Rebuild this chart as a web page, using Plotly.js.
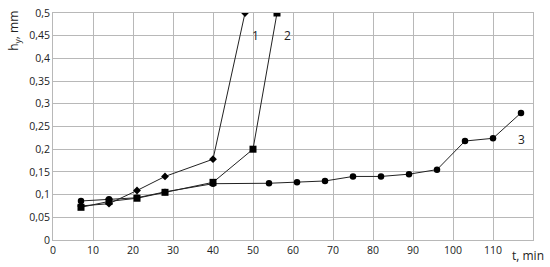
<!DOCTYPE html>
<html><head><meta charset="utf-8">
<script src="https://cdn.plot.ly/plotly-3.0.1.min.js"></script>
<style>body{margin:0;padding:0;background:#fff}</style>
</head><body>
<div id="chart" style="width:550px;height:267px"></div>
<script>
const t1 = [7, 14, 21, 28, 40, 48];
const h1 = [0.075, 0.08, 0.109, 0.14, 0.178, 0.5];
const t2 = [7, 14, 21, 28, 40, 50, 56];
const h2 = [0.072, 0.085, 0.092, 0.105, 0.127, 0.2, 0.5];
const t3 = [7, 14, 21, 28, 40, 54, 61, 68, 75, 82, 89, 96, 103, 110, 117];
const h3 = [0.086, 0.09, 0.093, 0.106, 0.124, 0.125, 0.127, 0.13, 0.14, 0.14, 0.145, 0.155, 0.218, 0.224, 0.28];
const xTicks = [0, 10, 20, 30, 40, 50, 60, 70, 80, 90, 100, 110];
const yTicks = [0, 0.05, 0.1, 0.15, 0.2, 0.25, 0.3, 0.35, 0.4, 0.45, 0.5];
const seriesLabels = ["1", "2", "3"];

const line = {color: '#222', width: 1};
const traces = [
  {x: t3, y: h3, mode: 'lines+markers', line: line, marker: {symbol: 'circle', size: 6.5, color: '#000'}},
  {x: t2, y: h2, mode: 'lines+markers', line: line, marker: {symbol: 'square', size: 7, color: '#000'}},
  {x: t1, y: h1, mode: 'lines+markers', line: line, marker: {symbol: 'diamond', size: 6, color: '#000'}}
];
const fam = 'Open Sans, Liberation Sans, sans-serif';
const font = {family: fam, size: 10.5, color: '#222'};
const lab = {family: fam, size: 12, color: '#222'};
const layout = {
  width: 550, height: 267,
  margin: {l: 53, r: 17, t: 13, b: 27},
  showlegend: false,
  separators: ', ',
  paper_bgcolor: '#fff', plot_bgcolor: '#fff',
  font: font,
  xaxis: {range: [0, 120], tickvals: xTicks, showgrid: true, gridcolor: '#b8b8b8', gridwidth: 1,
          zeroline: false, showline: true, linecolor: '#b8b8b8', mirror: true, ticks: '', tickfont: font},
  yaxis: {range: [0, 0.5], tickvals: yTicks, showgrid: true, gridcolor: '#b8b8b8', gridwidth: 1,
          zeroline: false, showline: true, linecolor: '#b8b8b8', mirror: true, ticks: '', tickfont: font},
  annotations: [
    {xref: 'paper', yref: 'paper', x: -0.08, y: 0.92, text: 'h<sub>y</sub>, mm', textangle: -90, showarrow: false, font: lab, xanchor: 'center', yanchor: 'middle'},
    {xref: 'paper', yref: 'paper', x: 0.99, y: 0, yshift: -15, text: 't, min', showarrow: false, font: lab, xanchor: 'center', yanchor: 'middle'},
    {x: 50.5, y: 0.45, text: seriesLabels[0], showarrow: false, font: lab},
    {x: 58.7, y: 0.45, text: seriesLabels[1], showarrow: false, font: lab},
    {x: 117, y: 0.222, text: seriesLabels[2], showarrow: false, font: lab}
  ]
};
Plotly.newPlot('chart', traces, layout, {displayModeBar: false, staticPlot: true});
</script>
</body></html>
